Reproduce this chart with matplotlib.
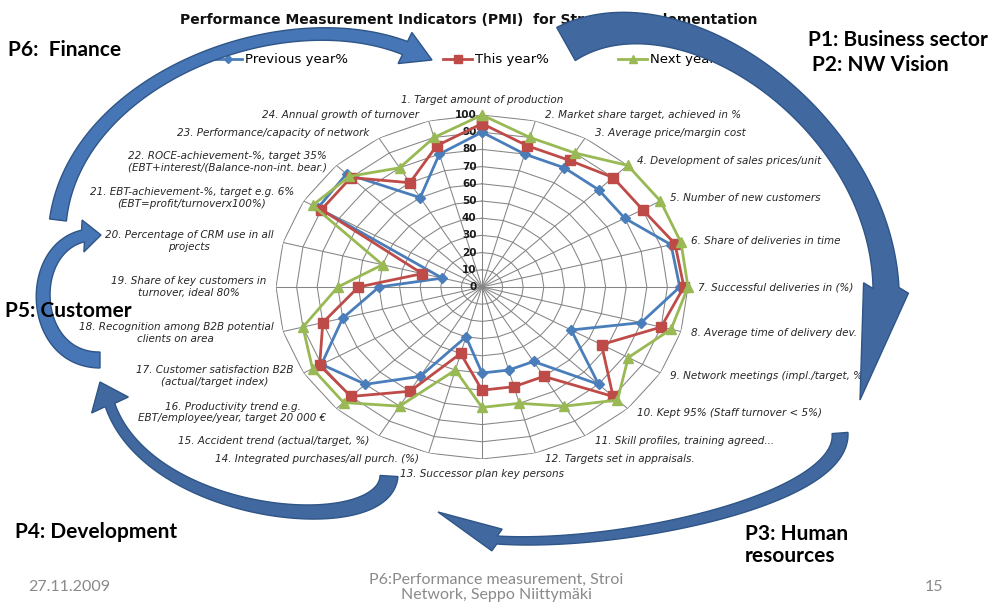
import numpy as np
import matplotlib
matplotlib.use("Agg")
import matplotlib.pyplot as plt
from matplotlib.lines import Line2D
from matplotlib.patches import Polygon

# ---- data ----
indicators = [
    "1. Target amount of production",
    "2. Market share target, achieved in %",
    "3. Average price/margin cost",
    "4. Development of sales prices/unit",
    "5. Number of new customers",
    "6. Share of deliveries in time",
    "7. Successful deliveries in (%)",
    "8. Average time of delivery dev.",
    "9. Network meetings (impl./target, %)",
    "10. Kept 95% (Staff turnover < 5%)",
    "11. Skill profiles, training agreed...",
    "12. Targets set in appraisals.",
    "13. Successor plan key persons",
    "14. Integrated purchases/all purch. (%)",
    "15. Accident trend (actual/target, %)",
    "16. Productivity trend e.g.\nEBT/employee/year, target 20 000 \u20ac",
    "17. Customer satisfaction B2B\n(actual/target index)",
    "18. Recognition among B2B potential\nclients on area",
    "19. Share of key customers in\nturnover, ideal 80%",
    "20. Percentage of CRM use in all\nprojects",
    "21. EBT-achievement-%, target e.g. 6%\n(EBT=profit/turnoverx100%)",
    "22. ROCE-achievement-%, target 35%\n(EBT+interest/(Balance-non-int. bear.)",
    "23. Performance/capacity of network",
    "24. Annual growth of turnover",
]
previous_year = [90, 80, 80, 80, 80, 95, 96, 80, 50, 80, 50, 50, 50, 30, 60, 80, 90, 70, 50, 20, 92, 93, 60, 80]
this_year = [95, 85, 85, 90, 90, 97, 98, 90, 67, 90, 60, 60, 60, 40, 70, 90, 91, 80, 60, 30, 90, 90, 70, 85]
next_year = [100, 90, 90, 100, 100, 100, 100, 95, 82, 93, 80, 70, 70, 50, 80, 95, 95, 90, 70, 50, 95, 91, 80, 90]
series_names = ["Previous year%", "This year%", "Next year%"]
ring_ticks = list(range(0, 101, 10))

W, H = 990, 605
fig = plt.figure(figsize=(W / 100, H / 100), dpi=100)
fig.patch.set_facecolor("white")


def px_box(left, top, right, bottom):
    return [left / W, 1 - bottom / H, (right - left) / W, (bottom - top) / H]


# ---- radar (stretched into an ellipse like the slide) ----
ax = fig.add_axes(px_box(276, 115, 688, 459), projection="polar", zorder=0)
ax.set_aspect("auto")
ax.set_theta_zero_location("N")
ax.set_theta_direction(-1)
ax.set_ylim(0, 100)
ax.grid(False)
ax.spines["polar"].set_visible(False)
ax.set_xticks([])
ax.set_yticks([])
ax.patch.set_alpha(0)

n = len(indicators)
theta = np.arange(n) * 2 * np.pi / n
theta_closed = np.append(theta, theta[0])
grid_col = "#858585"
for r in ring_ticks[1:]:
    ax.plot(theta_closed, [r] * (n + 1), color=grid_col, lw=0.75, zorder=1)
for th in theta:
    ax.plot([th, th], [0, 100], color=grid_col, lw=0.75, zorder=1)

for r in ring_ticks:
    ax.annotate(str(r), xy=(0, r), xytext=(-4, 0), textcoords="offset points",
                ha="right", va="center", fontsize=7.5, fontweight="bold",
                color="#1a1a1a", annotation_clip=False, zorder=3)

styles = [
    ("#4a7ebb", "D", 5.0),
    ("#be4b48", "s", 6.5),
    ("#98b954", "^", 7.0),
]
for vals, (col, mk, ms) in zip([previous_year, this_year, next_year], styles):
    ax.plot(theta_closed, vals + vals[:1], color=col, lw=2.0, marker=mk,
            markersize=ms, zorder=4, clip_on=False)

for th, lab in zip(theta, indicators):
    s, c = np.sin(th), np.cos(th)
    if abs(s) < 0.1:
        ha = "center"
        off = (0, 11 * np.sign(c))
    else:
        ha = "left" if s > 0 else "right"
        off = (7 * np.sign(s), 4 * c)
    ax.annotate(lab, xy=(th, 100), xytext=off, textcoords="offset points",
                ha=ha, va="center", multialignment="center", fontsize=7.5,
                style="italic", color="#262626", annotation_clip=False,
                linespacing=1.2)

fig.text(469 / W, 1 - 20 / H,
         "Performance Measurement Indicators (PMI)  for Strategy Implementation",
         ha="center", va="center", fontsize=10, fontweight="bold", color="#111111")

# one small legend per series so each sits where the slide has it
for name, (col, mk, ms), x0 in zip(series_names, styles, [213, 443, 618]):
    h = Line2D([], [], color=col, marker=mk, markersize=ms * 0.9, lw=2)
    fig.legend([h], [name], loc="center left", bbox_to_anchor=(x0 / W, 1 - 60 / H),
               frameon=False, fontsize=9.5, handlelength=2.2, handletextpad=0.2,
               borderpad=0, borderaxespad=0)

# ---- slide overlay: cycle arrows, headings and footer ----
ov = fig.add_axes([0, 0, 1, 1], zorder=6)
ov.set_xlim(0, W)
ov.set_ylim(H, 0)
ov.axis("off")
ov.patch.set_alpha(0)


def curved_arrow(pts, widths, head_w, tip, fc="#4676b5", ec="#2f5587"):
    p = np.array(pts, float)
    t = np.linspace(0, 1, 120)[:, None]
    c = ((1 - t) ** 3 * p[0] + 3 * (1 - t) ** 2 * t * p[1]
         + 3 * (1 - t) * t ** 2 * p[2] + t ** 3 * p[3])
    d = (3 * (1 - t) ** 2 * (p[1] - p[0]) + 6 * (1 - t) * t * (p[2] - p[1])
         + 3 * t ** 2 * (p[3] - p[2]))
    d /= np.linalg.norm(d, axis=1)[:, None]
    nrm = np.column_stack([-d[:, 1], d[:, 0]])
    tt = t[:, 0]
    w0, wm, w1 = widths
    w = (w0 * (1 - tt) ** 2 + 2 * wm * tt * (1 - tt) + w1 * tt ** 2)[:, None]
    left = c + nrm * w / 2
    right = c - nrm * w / 2
    end = c[-1]
    tip = np.array(tip, float)
    hd = (tip - end) / np.linalg.norm(tip - end)
    hn = np.array([-hd[1], hd[0]])
    poly = np.vstack([left, end + hn * head_w / 2, tip, end - hn * head_w / 2, right[::-1]])
    ov.add_patch(Polygon(poly, closed=True, fc=fc, ec=ec, lw=1.0, zorder=2))


# P6 -> P1
curved_arrow([(58, 220), (75, 80), (280, 0), (405, 48)], (17, 9, 14), 34, (432, 60))
# P1 -> P3
curved_arrow([(566, 44), (680, -20), (880, 120), (886, 288)], (38, 16, 26), 46, (860, 400),
             fc="#41689f")
# P3 -> P4
curved_arrow([(840, 433), (845, 500), (620, 548), (497, 540)], (16, 10, 8), 24, (438, 512),
             fc="#41689f")
# P4 -> P5
curved_arrow([(389, 476), (385, 540), (150, 520), (110, 405)], (18, 12, 10), 40, (100, 382),
             fc="#41689f")
# P5 -> P6
curved_arrow([(100, 360), (30, 360), (25, 250), (83, 236)], (16, 14, 12), 32, (101, 235))

head_kw = dict(fontsize=15, fontweight="bold", family="Lato", color="black", zorder=10,
               va="center")
ov.text(8, 50, "P6:  Finance", ha="left", **head_kw)
ov.text(808, 40, "P1: Business sector", ha="left", **head_kw)
ov.text(812, 65, "P2: NW Vision", ha="left", **head_kw)
ov.text(5, 311, "P5: Customer", ha="left", **head_kw)
ov.text(15, 532, "P4: Development", ha="left", **head_kw)
ov.text(745, 545, "P3: Human\nresources", ha="left", linespacing=1.15, **head_kw)

foot_kw = dict(fontsize=11.5, family="Lato", color="#8a8a8a", zorder=10, va="center")
ov.text(28, 587, "27.11.2009", ha="left", **foot_kw)
ov.text(496, 587, "P6:Performance measurement, Stroi\nNetwork, Seppo Niittym\u00e4ki",
        ha="center", multialignment="center", linespacing=1.1, **foot_kw)
ov.text(943, 587, "15", ha="right", **foot_kw)

fig.savefig("out.png", dpi=100)
